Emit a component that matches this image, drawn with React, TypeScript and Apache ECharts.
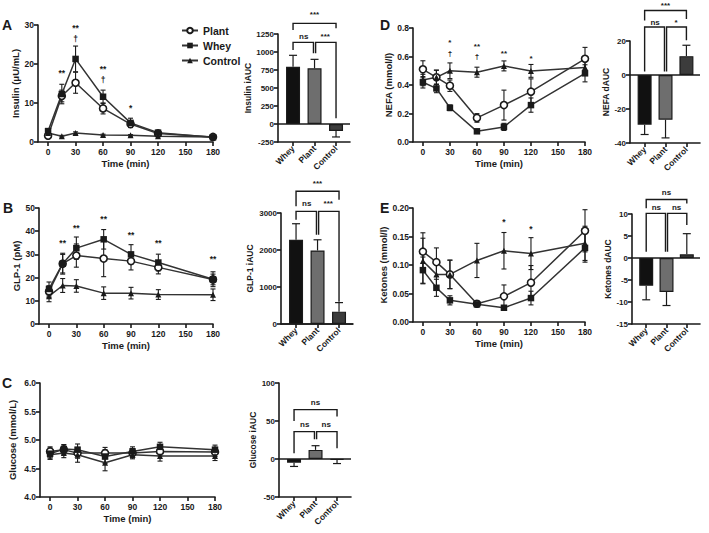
import React, { useEffect, useRef } from 'react';
import * as echarts from 'echarts';

const FONT = '"Liberation Sans", Arial, Helvetica, sans-serif';
const INK = '#1a1a1a';
const LINE = '#333333';

// ---------- data ----------
const times = [0, 15, 30, 60, 90, 120, 180];
const timeTicks = [0, 30, 60, 90, 120, 150, 180];
const groups = ['Whey', 'Plant', 'Control'];
const barColors = ['#111111', '#6e6e6e', '#3c3c3c'];

// A: Insulin (μU/mL)
const insPlant = [1.6, 11.8, 15.2, 8.6, 4.6, 2.2, 1.3];
const insPlantSem = [0.4, 1.5, 2.7, 1.4, 0.7, 0.4, 0.2];
const insWhey = [2.8, 12.3, 21.3, 11.6, 4.9, 2.4, 1.2];
const insWheySem = [0.5, 2.5, 3.3, 1.7, 1.2, 0.4, 0.2];
const insCtrl = [2.3, 1.5, 2.3, 1.8, 1.7, 1.5, 1.3];
const insCtrlSem = [0.3, 0.2, 0.3, 0.2, 0.2, 0.2, 0.2];
const insMarks: [number, number, string][] = [[15, 17.8, '**'], [30, 29.2, '**'], [30, 26.4, '†'], [60, 18.6, '**'], [60, 15.8, '†'], [90, 8.8, '*']];
const insAuc = [796, 773, -97];
const insAucSem = [158, 125, 83];

// B: GLP-1 (pM)
const glpPlant = [14, 26, 29.5, 28.2, 27.1, 24.4, 19.2];
const glpPlantSem = [2.5, 4, 5, 7.8, 3.8, 2.8, 2.3];
const glpWhey = [15.1, 26, 32.7, 36.5, 30, 26.5, 19.3];
const glpWheySem = [3, 4.5, 4.8, 4.2, 4.2, 3.6, 3.2];
const glpCtrl = [12, 16.6, 16.4, 13.3, 13.3, 12.7, 12.6];
const glpCtrlSem = [2.4, 3, 2.7, 2.7, 2.5, 2.1, 2.5];
const glpMarks: [number, number, string][] = [[15, 34.9, '**'], [30, 41.2, '**'], [60, 45.2, '**'], [90, 38.5, '**'], [120, 34.9, '**'], [180, 28, '**']];
const glpAuc = [2276, 1987, 334];
const glpAucSem = [434, 289, 244];

// C: Glucose (mmol/L)
const gluPlant = [4.8, 4.83, 4.77, 4.77, 4.77, 4.8, 4.79];
const gluPlantSem = [0.08, 0.08, 0.09, 0.1, 0.08, 0.08, 0.08];
const gluWhey = [4.76, 4.84, 4.83, 4.71, 4.8, 4.88, 4.83];
const gluWheySem = [0.1, 0.08, 0.1, 0.12, 0.08, 0.08, 0.08];
const gluCtrl = [4.74, 4.77, 4.74, 4.6, 4.74, 4.72, 4.72];
const gluCtrlSem = [0.07, 0.08, 0.13, 0.14, 0.07, 0.09, 0.08];
const gluAuc = [-4.8, 12, -1];
const gluAucSem = [5, 5.5, 5];

// D: NEFA (mmol/l)
const nefaPlant = [0.51, 0.454, 0.395, 0.169, 0.259, 0.353, 0.584];
const nefaPlantSem = [0.06, 0.05, 0.04, 0.03, 0.105, 0.09, 0.08];
const nefaWhey = [0.419, 0.376, 0.24, 0.075, 0.106, 0.259, 0.482];
const nefaWheySem = [0.04, 0.03, 0.02, 0.01, 0.025, 0.05, 0.06];
const nefaCtrl = [0.435, 0.454, 0.5, 0.49, 0.534, 0.499, 0.522];
const nefaCtrlSem = [0.04, 0.05, 0.055, 0.035, 0.035, 0.045, 0.05];
const nefaMarks: [number, number, string][] = [[30, 0.695, '*'], [30, 0.62, '†'], [60, 0.67, '**'], [60, 0.6, '†'], [90, 0.624, '**'], [120, 0.588, '*']];
const nefaAuc = [-29.2, -26.3, 11.1];
const nefaAucSem = [5.8, 10.7, 6.4];

// E: Ketones (mmol/l)
const ketPlant = [0.1235, 0.105, 0.0835, 0.032, 0.045, 0.069, 0.16];
const ketPlantSem = [0.033, 0.025, 0.025, 0.005, 0.02, 0.03, 0.037];
const ketWhey = [0.091, 0.06, 0.038, 0.031, 0.025, 0.042, 0.13];
const ketWheySem = [0.023, 0.015, 0.008, 0.003, 0.003, 0.012, 0.025];
const ketCtrl = [0.107, 0.0835, 0.0835, 0.108, 0.125, 0.12, 0.138];
const ketCtrlSem = [0.04, 0.02, 0.025, 0.03, 0.032, 0.028, 0.03];
const ketMarks: [number, number, string][] = [[90, 0.175, '*'], [120, 0.163, '*']];
const ketAuc = [-6.3, -7.7, 0.83];
const ketAucSem = [3.2, 3.1, 4.7];

// significance brackets: [x1, x2, yTop, yLeftEnd, yRightEnd]
type Br = [number, number, number, number, number];
const insBr: Br[] = [[0, 2, 1398, 1306, 1329], [0, 0.95, 1134, 1028, 981], [1.05, 2, 1134, 981, 79]];
const insBrTxt: [number, number, string][] = [[1, 1514, '***'], [0.5, 1213, 'ns'], [1.5, 1213, '***']];
const glpBr: Br[] = [[0, 2, 3586, 3180, 3360], [0, 0.95, 3044, 2820, 2410], [1.05, 2, 3044, 2410, 600]];
const glpBrTxt: [number, number, string][] = [[1, 3800, '***'], [0.5, 3270, 'ns'], [1.5, 3270, '***']];
const gluBr: Br[] = [[0, 2, 65, 50, 56], [0, 0.95, 36, 7.5, 26], [1.05, 2, 36, 26, 14]];
const gluBrTxt: [number, number, string][] = [[1, 74.5, 'ns'], [0.5, 45, 'ns'], [1.5, 45, 'ns']];
const nefaBr: Br[] = [[0, 2, 37.9, 32, 33], [0, 0.95, 28.2, 2, 2], [1.05, 2, 28.2, 2, 20.4]];
const nefaBrTxt: [number, number, string][] = [[1, 41, '***'], [0.5, 30.8, 'ns'], [1.5, 30.8, '*']];
const ketBr: Br[] = [[0, 2, 13.3, 11.3, 12.4], [0, 0.95, 10.15, 1.4, 1.4], [1.05, 2, 10.15, 1.4, 7.5]];
const ketBrTxt: [number, number, string][] = [[1, 14.8, 'ns'], [0.5, 11.5, 'ns'], [1.5, 11.5, 'ns']];

// ---------- helpers ----------
const axisLineStyle = { color: INK, width: 1.6 };
const boldTxt = (size: number) => ({ color: INK, fontFamily: FONT, fontWeight: 'bold' as const, fontSize: size });

function lineX(gi: number) {
  return {
    type: 'value', gridIndex: gi, min: -11, max: 180,
    axisLine: { show: true, onZero: false, lineStyle: axisLineStyle },
    axisTick: { show: true, customValues: timeTicks, length: 4, lineStyle: axisLineStyle },
    axisLabel: { customValues: timeTicks, margin: 5, ...boldTxt(8.5) },
    splitLine: { show: false },
    name: 'Time (min)', nameLocation: 'middle', nameGap: 16, nameTextStyle: boldTxt(9.5),
  };
}
function lineY(gi: number, min: number, max: number, interval: number, dec: number, name: string, gap: number) {
  return {
    type: 'value', gridIndex: gi, min, max, interval,
    axisLine: { show: true, onZero: false, lineStyle: axisLineStyle },
    axisTick: { show: true, length: 4, lineStyle: axisLineStyle },
    axisLabel: { margin: 4, formatter: (v: number) => v.toFixed(dec), ...boldTxt(8.5) },
    splitLine: { show: false },
    name, nameLocation: 'middle', nameGap: gap, nameRotate: 90, nameTextStyle: boldTxt(9.5),
  };
}
function barX(gi: number) {
  return {
    type: 'value', gridIndex: gi, min: -0.7, max: 2.65,
    axisLine: { show: true, onZero: false, lineStyle: axisLineStyle },
    axisTick: { show: true, customValues: [0, 1, 2], length: 4, lineStyle: axisLineStyle },
    axisLabel: { customValues: [0, 1, 2], rotate: 45, margin: 5, formatter: (v: number) => groups[Math.round(v)], ...boldTxt(8.5) },
    splitLine: { show: false },
  };
}
function barY(gi: number, min: number, max: number, interval: number, name: string, gap: number) {
  return {
    type: 'value', gridIndex: gi, min, max, interval,
    axisLine: { show: true, onZero: false, lineStyle: axisLineStyle },
    axisTick: { show: true, length: 4, lineStyle: axisLineStyle },
    axisLabel: { margin: 4, formatter: (v: number) => String(v), ...boldTxt(8) },
    splitLine: { show: false },
    name, nameLocation: 'middle', nameGap: gap, nameRotate: 90, nameTextStyle: boldTxt(8.5),
  };
}

const symbols: Record<string, any> = {
  Plant: { symbol: 'circle', symbolSize: 7, itemStyle: { color: '#ffffff', borderColor: INK, borderWidth: 1.6 } },
  Whey: { symbol: 'rect', symbolSize: 6.5, itemStyle: { color: INK, borderColor: INK, borderWidth: 0 } },
  Control: { symbol: 'triangle', symbolSize: 6, itemStyle: { color: INK, borderColor: INK, borderWidth: 0 } },
};

function errSeries(gi: number, xs: number[], mean: number[], sem: number[], cap: number) {
  return {
    type: 'custom', xAxisIndex: gi, yAxisIndex: gi, clip: false, silent: true, z: 1,
    itemStyle: { color: INK },
    data: xs.map((x, i) => [x, mean[i] - sem[i], mean[i] + sem[i]]),
    renderItem: (_p: any, api: any) => {
      const x = api.value(0);
      const a = api.coord([x, api.value(1)]);
      const b = api.coord([x, api.value(2)]);
      const style = { stroke: INK, lineWidth: 1.1 };
      return {
        type: 'group', children: [
          { type: 'line', shape: { x1: a[0], y1: a[1], x2: b[0], y2: b[1] }, style },
          { type: 'line', shape: { x1: a[0] - cap, y1: a[1], x2: a[0] + cap, y2: a[1] }, style },
          { type: 'line', shape: { x1: b[0] - cap, y1: b[1], x2: b[0] + cap, y2: b[1] }, style },
        ],
      };
    },
  };
}

function lineGroup(gi: number, name: string, mean: number[], sem: number[]) {
  return [
    errSeries(gi, times, mean, sem, 2.5),
    {
      type: 'line', name, xAxisIndex: gi, yAxisIndex: gi, z: 3,
      data: times.map((t, i) => [t, mean[i]]),
      lineStyle: { color: LINE, width: 1.5 },
      ...symbols[name],
    },
  ];
}

function textSeries(gi: number, items: [number, number, string][], size: number) {
  return {
    type: 'custom', xAxisIndex: gi, yAxisIndex: gi, clip: false, silent: true, z: 5,
    itemStyle: { color: INK },
    data: items.map((d) => [d[0], d[1]]),
    renderItem: (p: any, api: any) => {
      const d = items[p.dataIndex];
      const c = api.coord([d[0], d[1]]);
      return {
        type: 'text', x: c[0], y: c[1],
        style: { text: d[2], fill: INK, font: `bold ${size}px ${FONT}`, align: 'center', verticalAlign: 'middle' },
      };
    },
  };
}

function bracketSeries(gi: number, items: Br[]) {
  return {
    type: 'custom', xAxisIndex: gi, yAxisIndex: gi, clip: false, silent: true, z: 5,
    itemStyle: { color: INK },
    data: items.map((d) => [d[0], d[2]]),
    renderItem: (p: any, api: any) => {
      const [x1, x2, yt, yl, yr] = items[p.dataIndex];
      const pts = [api.coord([x1, yl]), api.coord([x1, yt]), api.coord([x2, yt]), api.coord([x2, yr])];
      return { type: 'polyline', shape: { points: pts }, style: { stroke: INK, lineWidth: 1.4, fill: null } };
    },
  };
}

function barGroup(gi: number, vals: number[], sem: number[], br: Br[], brTxt: [number, number, string][]) {
  return [
    {
      type: 'bar', xAxisIndex: gi, yAxisIndex: gi, barWidth: 14, z: 2, silent: true,
      data: vals.map((v, i) => ({ value: [i, v], itemStyle: { color: barColors[i], borderColor: INK, borderWidth: 1.2 } })),
      markLine: {
        silent: true, symbol: 'none', label: { show: false },
        lineStyle: { color: INK, width: 1.6, type: 'solid' }, data: [{ yAxis: 0 }],
      },
    },
    {
      type: 'custom', xAxisIndex: gi, yAxisIndex: gi, clip: false, silent: true, z: 1,
      itemStyle: { color: INK },
      data: vals.map((v, i) => [i, v, v + (v >= 0 ? 1 : -1) * sem[i]]),
      renderItem: (_p: any, api: any) => {
        const x = api.value(0);
        const a = api.coord([x, api.value(1)]);
        const b = api.coord([x, api.value(2)]);
        const style = { stroke: INK, lineWidth: 1.2 };
        return {
          type: 'group', children: [
            { type: 'line', shape: { x1: a[0], y1: a[1], x2: b[0], y2: b[1] }, style },
            { type: 'line', shape: { x1: b[0] - 4, y1: b[1], x2: b[0] + 4, y2: b[1] }, style },
          ],
        };
      },
    },
    bracketSeries(gi, br),
    textSeries(gi, brTxt, 8),
  ];
}

function buildOption() {
  const grids = [
    { left: 38, top: 25, width: 175, height: 117 },   // A
    { left: 278, top: 34, width: 72, height: 108 },   // A bar
    { left: 39, top: 208, width: 174, height: 116 },  // B
    { left: 281, top: 213, width: 72, height: 111 },  // B bar
    { left: 40, top: 383, width: 175, height: 114 },  // C
    { left: 279, top: 383, width: 72, height: 114 },  // C bar
    { left: 413, top: 28, width: 172, height: 114 },  // D
    { left: 630, top: 41, width: 70, height: 102 },   // D bar
    { left: 413, top: 208, width: 172, height: 114 }, // E
    { left: 632, top: 214, width: 68, height: 110 },  // E bar
  ];
  const xAxis = [lineX(0), barX(1), lineX(2), barX(3), lineX(4), barX(5), lineX(6), barX(7), lineX(8), barX(9)];
  const yAxis = [
    lineY(0, 0, 30, 10, 0, 'Insulin (μU/mL)', 17),
    barY(1, -250, 1250, 250, 'Insulin iAUC', 22),
    lineY(2, 0, 50, 10, 0, 'GLP-1 (pM)', 18),
    barY(3, 0, 3000, 1000, 'GLP-1 iAUC', 27),
    lineY(4, 4, 6, 0.5, 1, 'Glucose (mmol/L)', 23),
    barY(5, -50, 100, 50, 'Glucose iAUC', 20),
    lineY(6, 0, 0.8, 0.2, 1, 'NEFA (mmol/l)', 20),
    barY(7, -40, 20, 20, 'NEFA dAUC', 18),
    lineY(8, 0, 0.2, 0.05, 2, 'Ketones (mmol/l)', 25),
    barY(9, -15, 10, 5, 'Ketones dAUC', 19),
  ];
  const series: any[] = [
    ...lineGroup(0, 'Plant', insPlant, insPlantSem),
    ...lineGroup(0, 'Whey', insWhey, insWheySem),
    ...lineGroup(0, 'Control', insCtrl, insCtrlSem),
    textSeries(0, insMarks, 8.5),
    ...barGroup(1, insAuc, insAucSem, insBr, insBrTxt),

    ...lineGroup(2, 'Plant', glpPlant, glpPlantSem),
    ...lineGroup(2, 'Whey', glpWhey, glpWheySem),
    ...lineGroup(2, 'Control', glpCtrl, glpCtrlSem),
    textSeries(2, glpMarks, 8.5),
    ...barGroup(3, glpAuc, glpAucSem, glpBr, glpBrTxt),

    ...lineGroup(4, 'Plant', gluPlant, gluPlantSem),
    ...lineGroup(4, 'Whey', gluWhey, gluWheySem),
    ...lineGroup(4, 'Control', gluCtrl, gluCtrlSem),
    ...barGroup(5, gluAuc, gluAucSem, gluBr, gluBrTxt),

    ...lineGroup(6, 'Plant', nefaPlant, nefaPlantSem),
    ...lineGroup(6, 'Whey', nefaWhey, nefaWheySem),
    ...lineGroup(6, 'Control', nefaCtrl, nefaCtrlSem),
    textSeries(6, nefaMarks, 8),
    ...barGroup(7, nefaAuc, nefaAucSem, nefaBr, nefaBrTxt),

    ...lineGroup(8, 'Plant', ketPlant, ketPlantSem),
    ...lineGroup(8, 'Whey', ketWhey, ketWheySem),
    ...lineGroup(8, 'Control', ketCtrl, ketCtrlSem),
    textSeries(8, ketMarks, 8.5),
    ...barGroup(9, ketAuc, ketAucSem, ketBr, ketBrTxt),
  ];
  const letter = (t: string, x: number, y: number) => ({
    type: 'text', left: x, top: y, silent: true,
    style: { text: t, fill: INK, font: `bold 14px ${FONT}` },
  });
  return {
    animation: false,
    backgroundColor: '#ffffff',
    grid: grids,
    xAxis, yAxis, series,
    legend: {
      left: 181, top: 25, padding: 0, orient: 'vertical', itemWidth: 16, itemHeight: 7, itemGap: 4,
      selectedMode: false, data: ['Plant', 'Whey', 'Control'],
      textStyle: boldTxt(10.5),
    },
    graphic: [
      letter('A', 2, 18), letter('B', 3, 201), letter('C', 2, 376),
      letter('D', 380, 18), letter('E', 380, 201),
    ],
  };
}

export default function App() {
  const ref = useRef<HTMLDivElement>(null);
  useEffect(() => {
    document.body.style.margin = '0';
    if (!ref.current) return;
    const chart = echarts.init(ref.current, undefined, { renderer: 'svg' });
    chart.setOption(buildOption() as any);
    return () => chart.dispose();
  }, []);
  return <div ref={ref} style={{ width: 709, height: 533, background: '#fff' }} />;
}
